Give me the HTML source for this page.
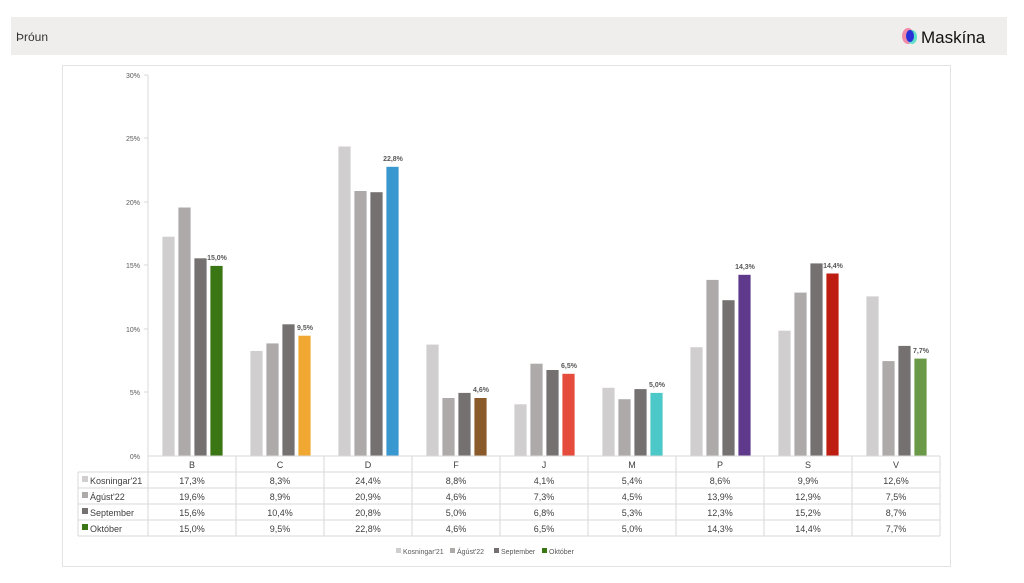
<!DOCTYPE html>
<html><head><meta charset="utf-8"><style>
body{margin:0;background:#fff;width:1024px;height:578px;overflow:hidden;font-family:"Liberation Sans",sans-serif}
</style></head><body>
<svg width="1024" height="578" xmlns="http://www.w3.org/2000/svg" font-family="Liberation Sans, sans-serif">
<rect x="11" y="17" width="996" height="38" fill="#efeeec"/>
<text x="16" y="41" font-size="12" fill="#333">Þróun</text>
<ellipse cx="908" cy="36" rx="6" ry="8" fill="#f08aa8"/>
<ellipse cx="912" cy="37" rx="5" ry="7" fill="#5fe0c8"/>
<ellipse cx="910" cy="36" rx="4" ry="6" fill="#2a2fd8"/>
<text x="921" y="43" font-size="17" fill="#111">Maskína</text>
<rect x="62.5" y="65.5" width="888" height="501" fill="#fff" stroke="#e3e3e3"/>
<g font-size="7" fill="#595959" text-anchor="end">
<text x="140" y="78">30%</text><text x="140" y="141">25%</text><text x="140" y="205">20%</text>
<text x="140" y="268">15%</text><text x="140" y="332">10%</text><text x="140" y="395">5%</text><text x="140" y="459">0%</text>
</g>
<g stroke="#d9d9d9"><line x1="148" y1="75" x2="148" y2="456"/><line x1="144" y1="75" x2="148" y2="75"/><line x1="144" y1="138" x2="148" y2="138"/><line x1="144" y1="202" x2="148" y2="202"/><line x1="144" y1="265" x2="148" y2="265"/><line x1="144" y1="329" x2="148" y2="329"/><line x1="144" y1="392" x2="148" y2="392"/></g>
<g stroke="#fff" stroke-width="0.8">
<rect x="162" y="236.3" width="13" height="219.7" fill="#d0cece"/><rect x="178" y="207.1" width="13" height="248.9" fill="#aeaaaa"/><rect x="194" y="257.9" width="13" height="198.1" fill="#767171"/><rect x="210" y="265.5" width="13" height="190.5" fill="#3b7615"/>
<rect x="250" y="350.6" width="13" height="105.4" fill="#d0cece"/><rect x="266" y="343" width="13" height="113" fill="#aeaaaa"/><rect x="282" y="323.9" width="13" height="132.1" fill="#767171"/><rect x="298" y="335.3" width="13" height="120.7" fill="#f0a832"/>
<rect x="338" y="146.1" width="13" height="309.9" fill="#d0cece"/><rect x="354" y="190.6" width="13" height="265.4" fill="#aeaaaa"/><rect x="370" y="191.8" width="13" height="264.2" fill="#767171"/><rect x="386" y="166.4" width="13" height="289.6" fill="#3a98d0"/>
<rect x="426" y="344.2" width="13" height="111.8" fill="#d0cece"/><rect x="442" y="397.6" width="13" height="58.4" fill="#aeaaaa"/><rect x="458" y="392.5" width="13" height="63.5" fill="#767171"/><rect x="474" y="397.6" width="13" height="58.4" fill="#8b5a2b"/>
<rect x="514" y="403.9" width="13" height="52.1" fill="#d0cece"/><rect x="530" y="363.3" width="13" height="92.7" fill="#aeaaaa"/><rect x="546" y="369.6" width="13" height="86.4" fill="#767171"/><rect x="562" y="373.4" width="13" height="82.6" fill="#e64c3c"/>
<rect x="602" y="387.4" width="13" height="68.6" fill="#d0cece"/><rect x="618" y="398.8" width="13" height="57.2" fill="#aeaaaa"/><rect x="634" y="388.7" width="13" height="67.3" fill="#767171"/><rect x="650" y="392.5" width="13" height="63.5" fill="#4cc8c8"/>
<rect x="690" y="346.8" width="13" height="109.2" fill="#d0cece"/><rect x="706" y="279.5" width="13" height="176.5" fill="#aeaaaa"/><rect x="722" y="299.8" width="13" height="156.2" fill="#767171"/><rect x="738" y="274.4" width="13" height="181.6" fill="#5f3a8c"/>
<rect x="778" y="330.3" width="13" height="125.7" fill="#d0cece"/><rect x="794" y="292.2" width="13" height="163.8" fill="#aeaaaa"/><rect x="810" y="263" width="13" height="193" fill="#767171"/><rect x="826" y="273.1" width="13" height="182.9" fill="#be1e12"/>
<rect x="866" y="296" width="13" height="160" fill="#d0cece"/><rect x="882" y="360.7" width="13" height="95.3" fill="#aeaaaa"/><rect x="898" y="345.5" width="13" height="110.5" fill="#767171"/><rect x="914" y="358.2" width="13" height="97.8" fill="#6a9a48"/>
</g>
<g font-size="7" font-weight="bold" fill="#595959" text-anchor="middle">
<text x="217" y="260">15,0%</text><text x="305" y="330">9,5%</text><text x="393" y="161">22,8%</text><text x="481" y="392">4,6%</text>
<text x="569" y="368">6,5%</text><text x="657" y="387">5,0%</text><text x="745" y="269">14,3%</text><text x="833" y="268">14,4%</text><text x="921" y="353">7,7%</text>
</g>
<g stroke="#d9d9d9" fill="none">
<line x1="148" y1="456" x2="940" y2="456"/>
<line x1="78" y1="472" x2="940" y2="472"/><line x1="78" y1="488" x2="940" y2="488"/><line x1="78" y1="504" x2="940" y2="504"/><line x1="78" y1="520" x2="940" y2="520"/><line x1="78" y1="536" x2="940" y2="536"/>
<line x1="78" y1="472" x2="78" y2="536"/>
<line x1="148" y1="456" x2="148" y2="536"/><line x1="236" y1="456" x2="236" y2="536"/><line x1="324" y1="456" x2="324" y2="536"/><line x1="412" y1="456" x2="412" y2="536"/><line x1="500" y1="456" x2="500" y2="536"/><line x1="588" y1="456" x2="588" y2="536"/><line x1="676" y1="456" x2="676" y2="536"/><line x1="764" y1="456" x2="764" y2="536"/><line x1="852" y1="456" x2="852" y2="536"/><line x1="940" y1="456" x2="940" y2="536"/>
</g>
<g font-size="9" fill="#404040" text-anchor="middle">
<text x="192" y="468">B</text><text x="280" y="468">C</text><text x="368" y="468">D</text><text x="456" y="468">F</text><text x="544" y="468">J</text><text x="632" y="468">M</text><text x="720" y="468">P</text><text x="808" y="468">S</text><text x="896" y="468">V</text>
<text x="192" y="484">17,3%</text><text x="280" y="484">8,3%</text><text x="368" y="484">24,4%</text><text x="456" y="484">8,8%</text><text x="544" y="484">4,1%</text><text x="632" y="484">5,4%</text><text x="720" y="484">8,6%</text><text x="808" y="484">9,9%</text><text x="896" y="484">12,6%</text>
<text x="192" y="500">19,6%</text><text x="280" y="500">8,9%</text><text x="368" y="500">20,9%</text><text x="456" y="500">4,6%</text><text x="544" y="500">7,3%</text><text x="632" y="500">4,5%</text><text x="720" y="500">13,9%</text><text x="808" y="500">12,9%</text><text x="896" y="500">7,5%</text>
<text x="192" y="516">15,6%</text><text x="280" y="516">10,4%</text><text x="368" y="516">20,8%</text><text x="456" y="516">5,0%</text><text x="544" y="516">6,8%</text><text x="632" y="516">5,3%</text><text x="720" y="516">12,3%</text><text x="808" y="516">15,2%</text><text x="896" y="516">8,7%</text>
<text x="192" y="532">15,0%</text><text x="280" y="532">9,5%</text><text x="368" y="532">22,8%</text><text x="456" y="532">4,6%</text><text x="544" y="532">6,5%</text><text x="632" y="532">5,0%</text><text x="720" y="532">14,3%</text><text x="808" y="532">14,4%</text><text x="896" y="532">7,7%</text>
</g>
<g font-size="9" fill="#404040">
<rect x="82" y="476" width="6" height="6" fill="#d0cece"/><text x="90" y="484">Kosningar'21</text>
<rect x="82" y="492" width="6" height="6" fill="#aeaaaa"/><text x="90" y="500">Ágúst'22</text>
<rect x="82" y="508" width="6" height="6" fill="#767171"/><text x="90" y="516">September</text>
<rect x="82" y="524" width="6" height="6" fill="#3b7615"/><text x="90" y="532">Október</text>
</g>
<g font-size="7" fill="#595959">
<rect x="396" y="548" width="5" height="5" fill="#d0cece"/><text x="403" y="554">Kosningar'21</text>
<rect x="450" y="548" width="5" height="5" fill="#aeaaaa"/><text x="457" y="554">Ágúst'22</text>
<rect x="494" y="548" width="5" height="5" fill="#767171"/><text x="501" y="554">September</text>
<rect x="542" y="548" width="5" height="5" fill="#3b7615"/><text x="549" y="554">Október</text>
</g>
</svg>
</body></html>
